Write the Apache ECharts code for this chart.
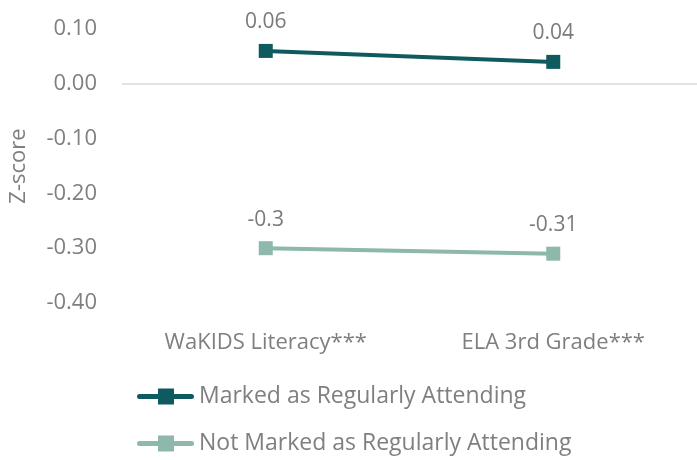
<!DOCTYPE html>
<html>
<head>
<meta charset="utf-8">
<script src="https://cdn.jsdelivr.net/npm/echarts@6/dist/echarts.min.js"></script>
<style>html,body{margin:0;padding:0;background:#fff;}#chart{width:697px;height:460px;}</style>
</head>
<body>
<div id="chart"></div>
<script>
const categories = ['WaKIDS Literacy***', 'ELA 3rd Grade***'];
const seriesNames = ['Marked as Regularly Attending', 'Not Marked as Regularly Attending'];
const markedValues = [0.06, 0.04];
const notMarkedValues = [-0.3, -0.31];
const yTicks = [-0.4, -0.3, -0.2, -0.1, 0.0, 0.1];

const font = '"Open Sans", "Noto Sans", sans-serif';
const gray = '#7f7f7f';
const legendIcon = 'path://M2.5,5.5 H54.5 A2.5,2.5 0 0 1 54.5,10.5 H2.5 A2.5,2.5 0 0 1 2.5,5.5 Z M21,0 H37 V16 H21 Z';
const chart = echarts.init(document.getElementById('chart'));
function lineSeries(name, data, color, withZero) {
  const s = {
    name: name, type: 'line', data: data,
    symbol: 'rect', symbolSize: 14,
    lineStyle: { color: color, width: 4 },
    itemStyle: { color: color },
    label: { show: true, position: 'top', distance: 11, color: '#7a7a7a', fontSize: 21, fontFamily: font },
    z: 3
  };
  if (withZero) {
    s.markLine = { silent: true, symbol: 'none', label: { show: false },
      lineStyle: { color: '#d9d9d9', width: 1.5, type: 'solid' },
      data: [{ yAxis: 0 }], z: 1 };
  }
  return s;
}
function legendFor(name, top) {
  return {
    orient: 'horizontal', left: 137, top: top, padding: 0,
    itemWidth: 57, itemHeight: 16, icon: legendIcon,
    textStyle: { color: gray, fontSize: 23, fontFamily: font },
    data: [name]
  };
}
chart.setOption({
  animation: false,
  textStyle: { fontFamily: font },
  grid: { left: 122, right: -9, top: 29, height: 274 },
  xAxis: {
    type: 'category', data: categories,
    axisLine: { show: false }, axisTick: { show: false },
    axisLabel: { color: gray, fontSize: 22, margin: 29, fontFamily: font }
  },
  yAxis: {
    type: 'value', min: yTicks[0], max: yTicks[yTicks.length - 1], interval: 0.1,
    splitLine: { show: false }, axisLine: { show: false }, axisTick: { show: false },
    axisLabel: { color: gray, fontSize: 22, margin: 25, fontFamily: font, formatter: v => v.toFixed(2) },
    name: 'Z-score', nameLocation: 'middle', nameGap: 92, nameRotate: 90,
    nameTextStyle: { color: gray, fontSize: 22, fontFamily: font }
  },
  legend: [legendFor(seriesNames[0], 385), legendFor(seriesNames[1], 432)],
  series: [
    lineSeries(seriesNames[0], markedValues, '#0f5a5f', true),
    lineSeries(seriesNames[1], notMarkedValues, '#8db8ab', false)
  ]
});
</script>
</body>
</html>
